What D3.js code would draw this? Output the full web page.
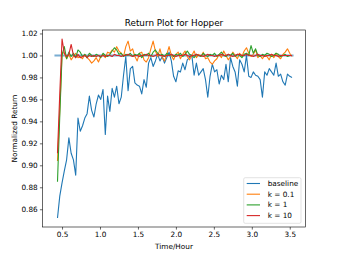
<!DOCTYPE html>
<html>
<head>
<meta charset="utf-8">
<script src="https://cdn.jsdelivr.net/npm/d3@7"></script>
<style>
  body { margin: 0; background: #fff; }
  svg { font-family: "DejaVu Sans", sans-serif; }
</style>
</head>
<body>
<div id="chart"></div>
<script>
// time axis (hours), shared by all runs
const times = [0.44,0.47,0.50,0.53,0.56,0.59,0.62,0.65,0.68,0.71,0.74,0.77,0.80,0.83,0.86,0.89,0.92,0.95,0.98,1.01,
  1.04,1.07,1.10,1.13,1.16,1.19,1.22,1.25,1.28,1.31,1.34,1.37,1.40,1.43,1.46,1.49,1.52,1.55,1.58,1.61,
  1.64,1.67,1.70,1.73,1.76,1.79,1.82,1.85,1.88,1.91,1.94,1.97,2.00,2.03,2.06,2.09,2.12,2.15,2.18,2.21,
  2.24,2.27,2.30,2.33,2.36,2.39,2.42,2.45,2.48,2.51,2.54,2.57,2.60,2.63,2.66,2.69,2.72,2.75,2.78,2.81,
  2.84,2.87,2.90,2.93,2.96,2.99,3.02,3.05,3.08,3.11,3.14,3.17,3.20,3.23,3.26,3.29,3.32,3.35,3.38,3.41,
  3.44,3.47,3.50,3.53]

const baseline = [0.852,0.872,0.884,0.895,0.905,0.925,0.911,0.905,0.891,0.943,0.931,0.936,0.943,0.947,0.963,0.950,0.944,0.956,0.964,0.960,
  0.969,0.928,0.963,0.949,0.970,0.962,0.972,0.956,0.962,0.982,0.999,0.968,0.988,0.990,0.975,0.973,0.972,0.965,0.978,0.971,
  0.993,0.998,0.990,0.995,1.001,0.995,0.999,0.993,0.998,1.003,0.995,0.981,0.976,0.986,0.985,0.993,0.987,0.996,0.998,1.000,
  0.982,0.993,0.982,0.985,0.988,0.978,0.962,0.981,0.992,0.985,0.987,0.974,0.982,0.978,0.992,0.976,0.998,0.990,0.985,0.972,
  0.996,0.992,0.985,1.000,0.981,0.980,0.985,0.982,0.981,0.978,0.962,0.985,0.982,0.988,0.985,0.982,0.993,0.981,0.983,0.976,
  0.973,0.983,0.981,0.980]

const k01 = [0.904,0.950,1.003,1.002,0.997,1.001,0.996,0.999,1.002,0.998,0.999,0.997,1.001,0.998,0.996,0.993,0.995,0.998,0.994,0.999,
  1.001,0.998,1.003,1.002,1.005,1.003,1.008,1.004,1.002,0.999,1.008,1.013,1.004,1.006,0.999,0.995,1.002,1.003,0.996,0.994,
  0.998,1.006,1.013,1.004,0.999,1.006,0.998,0.995,1.001,1.008,1.000,0.996,1.001,1.003,0.997,1.001,1.004,0.999,0.996,1.000,
  1.004,0.998,1.001,0.999,1.003,0.997,0.998,0.994,0.992,0.995,0.997,1.001,0.998,1.004,1.000,0.996,0.999,1.003,1.000,0.997,
  1.002,0.999,1.004,1.007,1.002,0.999,1.001,1.005,0.998,1.000,0.997,1.000,0.999,0.996,1.001,0.998,1.002,0.999,0.997,1.001,
  1.003,1.006,1.002,0.999]

const k1 = [0.885,0.945,1.000,1.008,0.997,1.003,0.999,1.002,0.998,1.005,1.003,0.999,1.001,0.998,1.002,1.000,0.999,1.001,1.000,0.998,
  1.002,1.000,0.999,1.001,1.004,1.007,1.005,1.001,1.002,0.999,1.001,1.000,1.002,0.999,1.001,1.000,1.002,0.998,1.001,1.000,
  1.002,0.999,1.003,1.005,1.002,1.000,1.001,0.999,1.002,1.000,1.001,0.999,1.001,1.000,1.002,0.999,1.001,1.004,1.001,1.000,
  0.998,1.001,1.000,0.999,1.002,1.000,0.999,1.001,1.000,1.002,0.999,1.001,1.003,1.000,0.999,1.001,1.000,1.002,0.999,1.001,
  1.000,0.998,1.001,1.002,1.000,1.009,1.002,1.006,1.000,0.999,1.001,1.000,1.002,1.001,0.999,1.000,1.002,1.001,0.999,1.000,
  1.001,0.999,1.000,1.000]

const k10 = [0.911,0.965,1.015,1.002,0.999,1.001,1.010,1.000,0.998,1.001,0.998,0.999,1.000,0.998,1.000,0.999,1.000,0.999,1.000,0.999,
  1.000,0.999,1.000,1.000,0.999,1.001,1.000,1.000,0.999,1.000,1.000,1.001,1.000,0.999,1.000,1.000,0.999,1.000,1.000,1.001,
  1.000,1.000,0.999,1.000,1.001,1.000,1.000,0.999,1.000,1.000,1.001,1.000,0.999,1.000,1.000,1.000,1.001,1.000,0.999,1.000,
  1.000,1.001,1.000,1.000,0.999,1.000,1.001,1.000,1.000,0.999,1.000,1.000,1.001,1.000,1.000,1.001,1.000,0.999,1.000,1.001,
  1.001,1.000,1.000,1.001,1.000,1.000,0.999,1.000,1.001,1.000,1.000,0.999,1.000,1.000,1.001,1.000,1.000,0.999,1.000,1.000,
  1.000,1.000,1.000,1.000]

// reference level at 1.0
const refX = [0.40, 3.55]
const refY = [1.0, 1.0]

const seriesNames = ["baseline", "k = 0.1", "k = 1", "k = 10"]
const seriesColors = ["#1f77b4", "#ff7f0e", "#2ca02c", "#d62728"]
const seriesValues = [baseline, k01, k1, k10]

const xTicks = [0.5, 1.0, 1.5, 2.0, 2.5, 3.0, 3.5]
const yTicks = [0.86, 0.88, 0.90, 0.92, 0.94, 0.96, 0.98, 1.00, 1.02]

const W = 339, H = 255
const margin = {top: 30, right: 33.5, bottom: 28, left: 42.5}
const width = W - margin.left - margin.right
const height = H - margin.top - margin.bottom

const svg = d3.select("#chart").append("svg")
  .attr("width", W).attr("height", H)

// matplotlib-style 5% padding around the data
const allX = times.concat(refX)
const allY = [].concat(...seriesValues, refY)
const [x0, x1] = d3.extent(allX)
const [y0, y1] = d3.extent(allY)
const px = (x1 - x0) * 0.05, py = (y1 - y0) * 0.05

const x = d3.scaleLinear().domain([x0 - px, x1 + px]).range([0, width])
const y = d3.scaleLinear().domain([y0 - py, y1 + py]).range([height, 0])

const g = svg.append("g").attr("transform", `translate(${margin.left},${margin.top})`)

const line = d3.line().x(d => x(d[0])).y(d => y(d[1]))

// reference line
g.append("path")
  .attr("d", line(d3.zip(refX, refY)))
  .attr("fill", "none")
  .attr("stroke", "#1f77b4")
  .attr("stroke-opacity", 0.6)
  .attr("stroke-width", 2)

seriesValues.forEach((vals, i) => {
  g.append("path")
    .attr("d", line(d3.zip(times, vals)))
    .attr("fill", "none")
    .attr("stroke", seriesColors[i])
    .attr("stroke-width", 1.1)
    .attr("stroke-linejoin", "round")
})

// axes
const xAxis = g.append("g").attr("transform", `translate(0,${height})`)
  .call(d3.axisBottom(x).tickValues(xTicks).tickFormat(d3.format(".1f")).tickSize(2.6).tickPadding(2.2))
const yAxis = g.append("g")
  .call(d3.axisLeft(y).tickValues(yTicks).tickFormat(d3.format(".2f")).tickSize(2.6).tickPadding(2.2))
;[xAxis, yAxis].forEach(a => {
  a.select(".domain").remove()
  a.selectAll("text").attr("font-size", 7.3).attr("fill", "#000").attr("font-family", "DejaVu Sans")
  a.selectAll("line").attr("stroke", "#000").attr("stroke-width", 0.6)
})

// frame
g.append("rect").attr("width", width).attr("height", height)
  .attr("fill", "none").attr("stroke", "#000").attr("stroke-width", 0.6)

// title and labels
svg.append("text").attr("x", margin.left + width / 2).attr("y", 25.8)
  .attr("text-anchor", "middle").attr("font-size", 8.8).text("Return Plot for Hopper")
svg.append("text").attr("x", margin.left + width / 2).attr("y", 248.5)
  .attr("text-anchor", "middle").attr("font-size", 7.3).text("Time/Hour")
svg.append("text").attr("transform", `translate(16.6,${margin.top + height / 2}) rotate(-90)`)
  .attr("text-anchor", "middle").attr("font-size", 7.3).text("Normalized Return")

// legend
const leg = svg.append("g").attr("transform", "translate(243.7,177.7)")
leg.append("rect").attr("width", 57.3).attr("height", 45.6).attr("rx", 1.5)
  .attr("fill", "#fff").attr("fill-opacity", 0.8).attr("stroke", "#d0d0d0").attr("stroke-width", 0.6)
seriesNames.forEach((name, i) => {
  const yy = 5.8 + i * 10.7
  leg.append("line").attr("x1", 3).attr("x2", 16.3).attr("y1", yy).attr("y2", yy)
    .attr("stroke", seriesColors[i]).attr("stroke-width", 1.1)
  leg.append("text").attr("x", 24).attr("y", yy + 2.6).attr("font-size", 7.3).text(name)
})
</script>
</body>
</html>
